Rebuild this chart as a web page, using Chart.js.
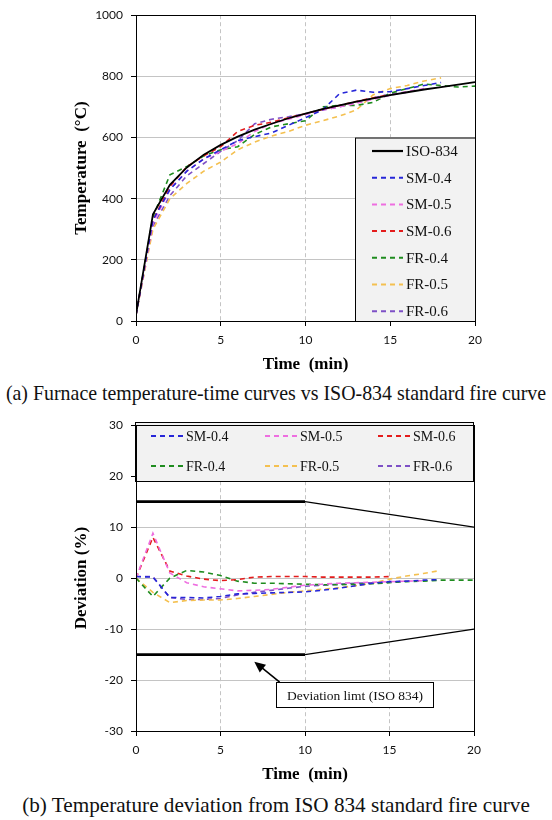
<!DOCTYPE html>
<html>
<head>
<meta charset="utf-8">
<script src="https://cdn.jsdelivr.net/npm/chart.js@4.4.1/dist/chart.umd.min.js"></script>
<style>
body{margin:0;background:#fff;width:552px;height:820px;position:relative;overflow:hidden}
.box{position:absolute;left:0;width:552px;height:380px}
.cap{position:absolute;left:0;width:552px;text-align:center;font-family:"Liberation Serif";color:#111;white-space:nowrap;line-height:22px}
</style>
</head>
<body>
<div class="box" style="top:0"><canvas id="c1"></canvas></div>
<div class="cap" style="top:382px;font-size:19.9px">(a) Furnace temperature-time curves vs ISO-834 standard fire curve</div>
<div class="box" style="top:410px"><canvas id="c2"></canvas></div>
<div class="cap" style="top:794px;font-size:21.2px">(b) Temperature deviation from ISO 834 standard fire curve</div>
<script>
// time in minutes, one reading per minute
var timeMin = [0,1,2,3,4,5,6,7,8,9,10,11,12,13,14,15,16,17,18,19,20];

// furnace temperature (C)
var iso834 = [20,349,445,502,544,576,603,626,645,663,678,693,705,717,728,739,748,757,765,773,781];
var sm04 = [20,330,430,490,530,560,590,603,615,640,665,690,743,755,748,750,760,770,780];
var sm05 = [20,320,430,490,530,555,580,620,645,660,675,690,700,712,725,738,750,760];
var sm06 = [20,330,440,505,540,570,620,640,650,665,678,692,705,718,730,740];
var fr04 = [20,340,478,505,540,560,570,610,635,645,655,700,705,705,715,745,760,775,770,765,768];
var fr05 = [20,300,400,450,490,520,560,585,605,620,640,655,670,690,740,760,770,785,795];
var fr06 = [20,310,410,475,515,555,590,645,660,668,678,690,700,715,730,742,748];

// deviation from ISO 834 (%)
var devSM04 = [0.3,0.2,-3.8,-3.8,-3.9,-3.6,-3.1,-3.0,-2.9,-2.8,-2.7,-2.4,-2.0,-1.5,-1.0,-0.7,-0.6,-0.4,-0.3];
var devSM05 = [0,8.8,1.0,-0.9,-1.7,-2.1,-2.5,-2.4,-2.2,-1.8,-1.4,-1.2,-1.0,-0.9,-0.8,-0.7,-0.6,-0.5];
var devSM06 = [0,8.0,1.4,0.4,-0.2,-0.5,-0.3,0.2,0.3,0.3,0.3,0.2,0.2,0.2,0.2,0.3];
var devFR04 = [0,-3.6,0,1.5,1.2,0.5,-0.6,-1.0,-1.0,-1.1,-1.2,-1.3,-1.3,-1.2,-1.1,-0.9,-0.7,-0.6,-0.4,-0.4,-0.4];
var devFR05 = [0,-2.8,-4.8,-4.4,-4.3,-4.3,-4.0,-3.6,-3.2,-2.8,-2.5,-2.2,-1.9,-1.5,-1.0,-0.2,0.4,0.9,1.5];
var devFR06 = [0.3,0.3,-3.8,-4.2,-4.2,-4.0,-3.3,-2.8,-2.4,-2.0,-1.6,-1.4,-1.2,-1.0,-0.9,-0.8,-0.6];

// deviation limit of ISO 834
var limitTime = [0,10,20];
var limitUpper = [15,15,10];
var limitLower = [-15,-15,-10];

var names = ['SM-0.4','SM-0.5','SM-0.6','FR-0.4','FR-0.5','FR-0.6'];
var colors = ['#2626d8','#ee6ee0','#e41c1c','#1f8c1f','#f4c050','#7e50c6'];

function pts(xs, ys){
	return ys.map(function(v, i){ return {x: xs[i], y: v}; });
}

function dashed(label, data, color){
	return {label: label, data: data, borderColor: color, borderWidth: 1.6,
		borderDash: [5,4], pointRadius: 0, fill: false, tension: 0};
}

var tickFont = {family: 'Lato', size: 12};
var titleFont = {family: 'Liberation Serif', size: 17, weight: 'bold'};

function axes(ymin, ymax, ystep, ytitle){
	return {
		x: {type: 'linear', min: 0, max: 20,
			ticks: {stepSize: 5, font: tickFont, color: '#111', padding: 7},
			grid: {color: '#c4c4c4', tickColor: '#000', tickLength: 5},
			border: {color: '#000', dash: [4,3]},
			title: {display: true, text: 'Time  (min)', font: titleFont, color: '#000', padding: {top: 5, bottom: 5}},
			afterFit: function(s){ s.height = 59; }
		},
		y: {min: ymin, max: ymax,
			ticks: {stepSize: ystep, font: tickFont, color: '#111', padding: 8,
				callback: function(v){ return String(v); }},
			grid: {color: '#c4c4c4', tickColor: '#000', tickLength: 5},
			border: {color: '#000'},
			title: {display: true, text: ytitle, font: titleFont, color: '#000', padding: {top: 11, bottom: 11}},
			afterFit: function(s){ s.width = 76; }
		}
	};
}

var framePlugin = {
	id: 'frame',
	afterDraw: function(chart){
		var a = chart.chartArea, ctx = chart.ctx;
		ctx.save();
		ctx.strokeStyle = '#000';
		ctx.lineWidth = 1;
		ctx.strokeRect(Math.round(a.left) + 0.5, Math.round(a.top) + 0.5, Math.round(a.right - a.left), Math.round(a.bottom - a.top));
		ctx.restore();
	}
};

function legendItem(ctx, ds, x, y, len){
	ctx.save();
	ctx.strokeStyle = ds.borderColor;
	ctx.lineWidth = ds.borderDash ? 2 : 2.2;
	ctx.setLineDash(ds.borderDash || []);
	ctx.beginPath();
	ctx.moveTo(x, y);
	ctx.lineTo(x + len, y);
	ctx.stroke();
	ctx.restore();
	ctx.fillText(ds.label, x + len + 3, y + 1);
}

var legendTop = {
	id: 'legendTop',
	afterDatasetsDraw: function(chart){
		var ctx = chart.ctx, a = chart.chartArea;
		var top = chart.scales.y.getPixelForValue(600);
		ctx.save();
		ctx.fillStyle = '#f2f2f2';
		ctx.fillRect(355, top, a.right - 355, a.bottom - top);
		ctx.strokeStyle = '#000';
		ctx.lineWidth = 1;
		ctx.strokeRect(355.5, top + 0.5, a.right - 355, a.bottom - top);
		ctx.fillStyle = '#111';
		ctx.font = '15px "Liberation Serif"';
		ctx.textBaseline = 'middle';
		chart.data.datasets.forEach(function(ds, i){
			legendItem(ctx, ds, 372, top + 13.5 + i * 26.7, 31);
		});
		ctx.restore();
	}
};

var legendBottom = {
	id: 'legendBottom',
	afterDatasetsDraw: function(chart){
		var ctx = chart.ctx, a = chart.chartArea;
		ctx.save();
		ctx.fillStyle = '#f2f2f2';
		ctx.fillRect(a.left - 1, 12, a.right - a.left, 59);
		ctx.strokeStyle = '#000';
		ctx.lineWidth = 1;
		ctx.strokeRect(a.left - 0.5, 12.5, a.right - a.left, 59);
		ctx.fillStyle = '#111';
		ctx.font = '14px "Liberation Serif"';
		ctx.textBaseline = 'middle';
		var cols = [151, 265, 378];
		chart.data.datasets.forEach(function(ds, i){
			if (i > 5) return;
			legendItem(ctx, ds, cols[i % 3], i < 3 ? 26 : 56, 32);
		});
		// note box with arrow
		var xs = chart.scales.x, ys = chart.scales.y;
		var hx = xs.getPixelForValue(7), hy = ys.getPixelForValue(-16.4);
		var tx = xs.getPixelForValue(8.5), ty = ys.getPixelForValue(-20.4);
		var ang = Math.atan2(hy - ty, hx - tx);
		ctx.strokeStyle = '#000';
		ctx.lineWidth = 1.6;
		ctx.beginPath();
		ctx.moveTo(tx, ty);
		ctx.lineTo(hx - 8 * Math.cos(ang), hy - 8 * Math.sin(ang));
		ctx.stroke();
		ctx.fillStyle = '#000';
		ctx.beginPath();
		ctx.moveTo(hx, hy);
		ctx.lineTo(hx - 11 * Math.cos(ang) + 5 * Math.sin(ang), hy - 11 * Math.sin(ang) - 5 * Math.cos(ang));
		ctx.lineTo(hx - 11 * Math.cos(ang) - 5 * Math.sin(ang), hy - 11 * Math.sin(ang) + 5 * Math.cos(ang));
		ctx.closePath();
		ctx.fill();
		var bx = Math.round(xs.getPixelForValue(8.3)) + 0.5, by = Math.round(ys.getPixelForValue(-20.4)) + 0.5;
		var bw = Math.round(xs.getPixelForValue(17.6) - bx), bh = Math.round(ys.getPixelForValue(-25.3) - by);
		ctx.fillStyle = '#fff';
		ctx.fillRect(bx, by, bw, bh);
		ctx.lineWidth = 1;
		ctx.strokeRect(bx, by, bw, bh);
		ctx.fillStyle = '#111';
		ctx.font = '13.5px "Liberation Serif"';
		ctx.textAlign = 'center';
		ctx.fillText('Deviation limt (ISO 834)', bx + bw / 2, by + bh / 2 + 1);
		ctx.restore();
	}
};

var tempSets = [
	{label: 'ISO-834', data: pts(timeMin, iso834), borderColor: '#000', borderWidth: 1.8, pointRadius: 0, fill: false, tension: 0}
];
[sm04, sm05, sm06, fr04, fr05, fr06].forEach(function(s, i){
	tempSets.push(dashed(names[i], pts(timeMin, s), colors[i]));
});

new Chart(document.getElementById('c1'), {
	type: 'line',
	data: {datasets: tempSets},
	options: {
		responsive: true, maintainAspectRatio: false, animation: false,
		layout: {padding: {left: 60, top: 10, right: 77, bottom: 0}},
		plugins: {legend: {display: false}, tooltip: {enabled: false}},
		scales: axes(0, 1000, 200, 'Temperature  (\u00B0C)')
	},
	plugins: [legendTop, framePlugin]
});

var devSets = [];
[devSM04, devSM05, devSM06, devFR04, devFR05, devFR06].forEach(function(s, i){
	devSets.push(dashed(names[i], pts(timeMin, s), colors[i]));
});
[limitUpper, limitLower].forEach(function(s){
	devSets.push({label: 'limit', data: pts(limitTime, s), borderColor: '#000', pointRadius: 0, fill: false,
		borderWidth: 1.2,
		segment: {borderWidth: function(c){ return c.p0.parsed.x < 10 ? 2.8 : 1.2; }}});
});

new Chart(document.getElementById('c2'), {
	type: 'line',
	data: {datasets: devSets},
	options: {
		responsive: true, maintainAspectRatio: false, animation: false,
		layout: {padding: {left: 60, top: 10, right: 78, bottom: 0}},
		plugins: {legend: {display: false}, tooltip: {enabled: false}},
		scales: axes(-30, 30, 10, 'Deviation (%)')
	},
	plugins: [legendBottom, framePlugin]
});
</script>
</body>
</html>
